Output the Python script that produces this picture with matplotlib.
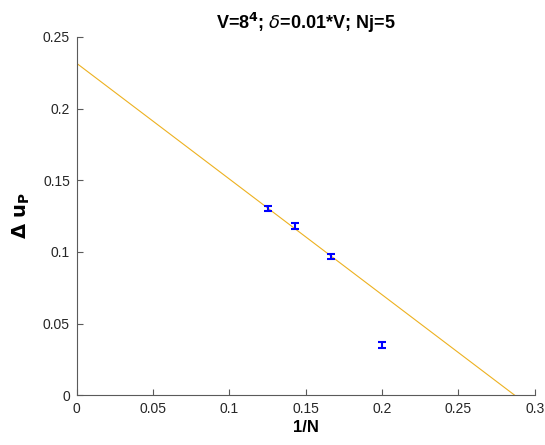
import matplotlib

matplotlib.use("Agg")
import matplotlib.pyplot as plt
import numpy as np

plt.rcParams["font.family"] = ["Liberation Sans", "DejaVu Sans"]

# data
inv_n = [0.125, 1 / 7, 1 / 6, 0.2]
delta_u = [0.130, 0.118, 0.0965, 0.035]
delta_err = [0.0018, 0.0018, 0.0018, 0.0018]

# linear fit shown on the chart
fit_intercept = 0.2315
fit_slope = -0.807

x_ticks = [0, 0.05, 0.1, 0.15, 0.2, 0.25, 0.3]
y_ticks = [0, 0.05, 0.1, 0.15, 0.2, 0.25]

fig = plt.figure(figsize=(5.45, 4.45), dpi=100)
ax = fig.add_axes([0.141, 0.112, 0.840, 0.805])

xf = np.array([0, 0.3])
ax.plot(xf, fit_intercept + fit_slope * xf, color="#EDB120", linewidth=0.8)
ax.errorbar(inv_n, delta_u, yerr=delta_err, fmt="none", ecolor="#0000FF",
            elinewidth=1.5, capsize=3, capthick=1.5)

ax.set_xlim(0, 0.3)
ax.set_ylim(0, 0.25)
ax.set_xticks(x_ticks)
ax.set_xticklabels(["0", "0.05", "0.1", "0.15", "0.2", "0.25", "0.3"])
ax.set_yticks(y_ticks)
ax.set_yticklabels(["0", "0.05", "0.1", "0.15", "0.2", "0.25"])

for side in ("top", "right"):
    ax.spines[side].set_visible(False)
for side in ("left", "bottom"):
    ax.spines[side].set_color("#5a5a5a")
    ax.spines[side].set_linewidth(0.8)
ax.tick_params(direction="in", length=4, colors="#5a5a5a", labelcolor="#262626",
               labelsize=10, pad=5)

ax.set_xlabel("1/N", fontsize=12, fontweight="bold", labelpad=3)
ax.set_ylabel(r"$\mathbf{\Delta\ u_P}$", fontsize=14, labelpad=8)
ax.set_title(r"V=8$^\mathbf{4}$; $\delta$=0.01*V; Nj=5", fontsize=13,
             fontweight="bold", pad=6)

fig.savefig("out.png", dpi=100)
plt.close(fig)
